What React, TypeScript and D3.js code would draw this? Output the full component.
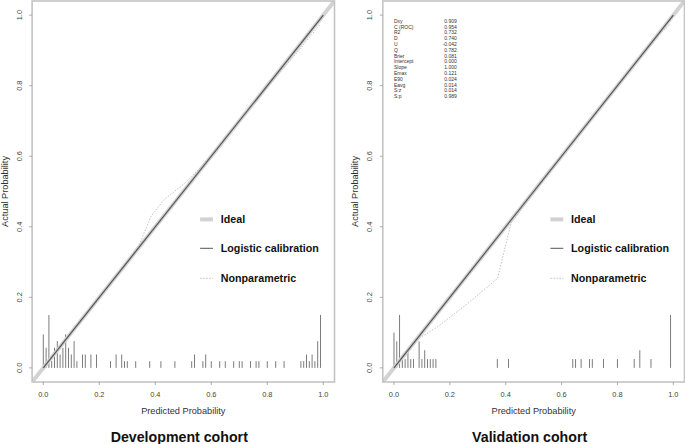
import React from "react";
import * as d3 from "d3";

const W = 685;
const H = 444;

const xTicks = [0, 0.2, 0.4, 0.6, 0.8, 1.0];
const yTicks = [0, 0.2, 0.4, 0.6, 0.8, 1.0];

const panelTitles = ["Development cohort", "Validation cohort"];
const xLabel = "Predicted Probability";
const yLabel = "Actual Probability";
const legendLabels = ["Ideal", "Logistic calibration", "Nonparametric"];

// Logistic calibration line (x, y)
const devLogisticX = [0, 1];
const devLogisticY = [0, 1];
const valLogisticX = [0, 1];
const valLogisticY = [0, 1];

// Nonparametric calibration curves
const devNonparX = [0.0, 0.05, 0.1, 0.2, 0.3, 0.34, 0.385, 0.43, 0.5, 0.56, 0.62, 0.7, 0.8, 0.9, 0.99];
const devNonparY = [0.0, 0.05, 0.1, 0.2, 0.3, 0.344, 0.43, 0.476, 0.52, 0.567, 0.622, 0.7, 0.795, 0.888, 0.975];
const valNonparX = [0.0, 0.05, 0.09, 0.157, 0.26, 0.371, 0.419, 0.6, 0.8, 0.95, 0.99];
const valNonparY = [0.0, 0.045, 0.084, 0.117, 0.18, 0.254, 0.41, 0.6, 0.8, 0.945, 0.975];

// Spike histogram of predicted probabilities
const devSpikeX = [0.0, 0.01, 0.02, 0.03, 0.04, 0.05, 0.06, 0.07, 0.08, 0.09, 0.1, 0.11, 0.12, 0.14, 0.15, 0.17, 0.19, 0.24, 0.26, 0.28, 0.29, 0.3, 0.33, 0.38, 0.42, 0.47, 0.53, 0.54, 0.57, 0.58, 0.6, 0.63, 0.65, 0.68, 0.7, 0.71, 0.74, 0.76, 0.77, 0.8, 0.83, 0.86, 0.92, 0.93, 0.94, 0.95, 0.96, 0.97, 0.98, 0.99];
const devSpikeH = [0.095, 0.057, 0.15, 0.019, 0.057, 0.076, 0.038, 0.057, 0.095, 0.057, 0.038, 0.076, 0.019, 0.038, 0.038, 0.038, 0.038, 0.019, 0.038, 0.038, 0.019, 0.019, 0.019, 0.019, 0.019, 0.019, 0.019, 0.038, 0.019, 0.038, 0.019, 0.019, 0.019, 0.019, 0.019, 0.019, 0.019, 0.019, 0.019, 0.019, 0.019, 0.019, 0.019, 0.019, 0.038, 0.019, 0.038, 0.019, 0.076, 0.15];
const valSpikeX = [0.0, 0.01, 0.02, 0.03, 0.04, 0.05, 0.06, 0.07, 0.09, 0.1, 0.11, 0.12, 0.13, 0.14, 0.15, 0.37, 0.41, 0.64, 0.65, 0.67, 0.7, 0.71, 0.75, 0.8, 0.86, 0.88, 0.92, 0.99];
const valSpikeH = [0.1, 0.075, 0.15, 0.025, 0.025, 0.05, 0.025, 0.025, 0.075, 0.025, 0.05, 0.025, 0.025, 0.025, 0.025, 0.025, 0.025, 0.025, 0.025, 0.025, 0.025, 0.025, 0.025, 0.025, 0.025, 0.05, 0.025, 0.15];

// Validation statistics
const statNames = ["Dxy", "C (ROC)", "R2", "D", "U", "Q", "Brier", "Intercept", "Slope", "Emax", "E90", "Eavg", "S:z", "S:p"];
const statValues = ["0.909", "0.954", "0.732", "0.740", "-0.042", "0.782", "0.081", "0.000", "1.000", "0.121", "0.024", "0.014", "0.014", "0.989"];

const FONT = "'Liberation Sans', Arial, Helvetica, sans-serif";

type PanelProps = {
  id: string;
  x0: number;
  x1: number;
  title: string;
  logX: number[];
  logY: number[];
  npX: number[];
  npY: number[];
  spX: number[];
  spH: number[];
  stats: boolean;
};

const Y0 = 382;
const Y1 = 1;

function Panel(p: PanelProps) {
  const x = d3.scaleLinear().domain([-0.04, 1.04]).range([p.x0, p.x1]);
  const y = d3.scaleLinear().domain([-0.04, 1.04]).range([Y0, Y1]);
  const line = d3
    .line<[number, number]>()
    .x((d) => x(d[0]))
    .y((d) => y(d[1]));
  const cx = (p.x0 + p.x1) / 2;
  const logPts = p.logX.map((v, i) => [v, p.logY[i]] as [number, number]);
  const npPts = p.npX.map((v, i) => [v, p.npY[i]] as [number, number]);
  const ideal: [number, number][] = [
    [-0.04, -0.04],
    [1.04, 1.04],
  ];
  const legY = [0.421, 0.339, 0.254];
  const legX0 = 0.56;
  const legX1 = 0.606;
  const legT = 0.634;
  const statY0 = 0.984;
  const rowH = 5.8;
  return (
    <g>
      <defs>
        <clipPath id={p.id}>
          <rect x={p.x0} y={Y1} width={p.x1 - p.x0} height={Y0 - Y1} />
        </clipPath>
      </defs>
      {/* spikes */}
      <g>
        {p.spX.map((v, i) => (
          <line
            key={i}
            x1={x(v)}
            x2={x(v)}
            y1={y(0)}
            y2={y(p.spH[i])}
            stroke="#7c7c7c"
            strokeWidth={1}
          />
        ))}
      </g>
      <g clipPath={`url(#${p.id})`}>
        <path d={line(ideal) || ""} stroke="#d2d2d2" strokeWidth={4} fill="none" />
        <path d={line(npPts) || ""} stroke="#c0c0c0" strokeWidth={1} strokeDasharray="1.5,1.5" fill="none" />
        <path d={line(logPts) || ""} stroke="#555" strokeWidth={1.2} fill="none" />
      </g>
      {/* box */}
      <rect
        x={p.x0}
        y={Y1}
        width={p.x1 - p.x0}
        height={Y0 - Y1}
        fill="none"
        stroke="#c4c4c4"
        strokeWidth={1.6}
      />
      {/* x axis */}
      {xTicks.map((t) => (
        <g key={"x" + t}>
          <line x1={x(t)} x2={x(t)} y1={Y0} y2={Y0 + 3} stroke="#999" strokeWidth={0.8} />
          <text
            x={x(t)}
            y={394.3}
            fontSize={7.4}
            fontFamily={FONT}
            fill="#444"
            textAnchor="middle"
            dominantBaseline="central"
          >
            {t.toFixed(1)}
          </text>
        </g>
      ))}
      {/* y axis */}
      {yTicks.map((t) => (
        <g key={"y" + t}>
          <line x1={p.x0} x2={p.x0 - 3} y1={y(t)} y2={y(t)} stroke="#999" strokeWidth={0.8} />
          <text
            transform={`translate(${p.x0 - 13},${y(t)}) rotate(-90)`}
            fontSize={7.4}
            fontFamily={FONT}
            fill="#444"
            textAnchor="middle"
            dominantBaseline="central"
          >
            {t.toFixed(1)}
          </text>
        </g>
      ))}
      <text
        x={cx}
        y={411}
        fontSize={9.2}
        fontFamily={FONT}
        fill="#333"
        textAnchor="middle"
        dominantBaseline="central"
      >
        {xLabel}
      </text>
      <text
        transform={`translate(${p.x0 - 27.5},${y(0.5)}) rotate(-90)`}
        fontSize={9.2}
        fontFamily={FONT}
        fill="#333"
        textAnchor="middle"
        dominantBaseline="central"
      >
        {yLabel}
      </text>
      <text
        x={cx - 4}
        y={437}
        fontSize={14.2}
        fontWeight="bold"
        fontFamily={FONT}
        fill="#111"
        textAnchor="middle"
        dominantBaseline="central"
      >
        {p.title}
      </text>
      {/* legend */}
      {legendLabels.map((lab, i) => (
        <g key={lab}>
          <line
            x1={x(legX0)}
            x2={x(legX1)}
            y1={y(legY[i])}
            y2={y(legY[i])}
            stroke={i === 0 ? "#d2d2d2" : i === 1 ? "#555" : "#c0c0c0"}
            strokeWidth={i === 0 ? 4 : 1}
            strokeDasharray={i === 2 ? "1.5,1.5" : undefined}
          />
          <text
            x={x(legT)}
            y={y(legY[i])}
            fontSize={10.7}
            fontWeight="bold"
            fontFamily={FONT}
            fill="#111"
            dominantBaseline="central"
          >
            {lab}
          </text>
        </g>
      ))}
      {p.stats &&
        statNames.map((n, i) => (
          <g key={n}>
            <text
              x={x(0)}
              y={y(statY0) + i * rowH}
              fontSize={5}
              fontFamily={FONT}
              fill="#333"
              dominantBaseline="central"
            >
              {n}
            </text>
            <text
              x={x(0.225)}
              y={y(statY0) + i * rowH}
              fontSize={5}
              fontFamily={FONT}
              fill="#333"
              textAnchor="end"
              dominantBaseline="central"
            >
              {statValues[i]}
            </text>
          </g>
        ))}
    </g>
  );
}

export default function App() {
  return (
    <svg
      width={W}
      height={H}
      style={{ position: "absolute", left: 0, top: 0, background: "#fff" }}
    >
      <rect x={0} y={0} width={W} height={H} fill="#fff" />
      <Panel
        id="clipL"
        x0={32.1}
        x1={334.5}
        title={panelTitles[0]}
        logX={devLogisticX}
        logY={devLogisticY}
        npX={devNonparX}
        npY={devNonparY}
        spX={devSpikeX}
        spH={devSpikeH}
        stats={false}
      />
      <Panel
        id="clipR"
        x0={382.8}
        x1={684.5}
        title={panelTitles[1]}
        logX={valLogisticX}
        logY={valLogisticY}
        npX={valNonparX}
        npY={valNonparY}
        spX={valSpikeX}
        spH={valSpikeH}
        stats={true}
      />
    </svg>
  );
}
